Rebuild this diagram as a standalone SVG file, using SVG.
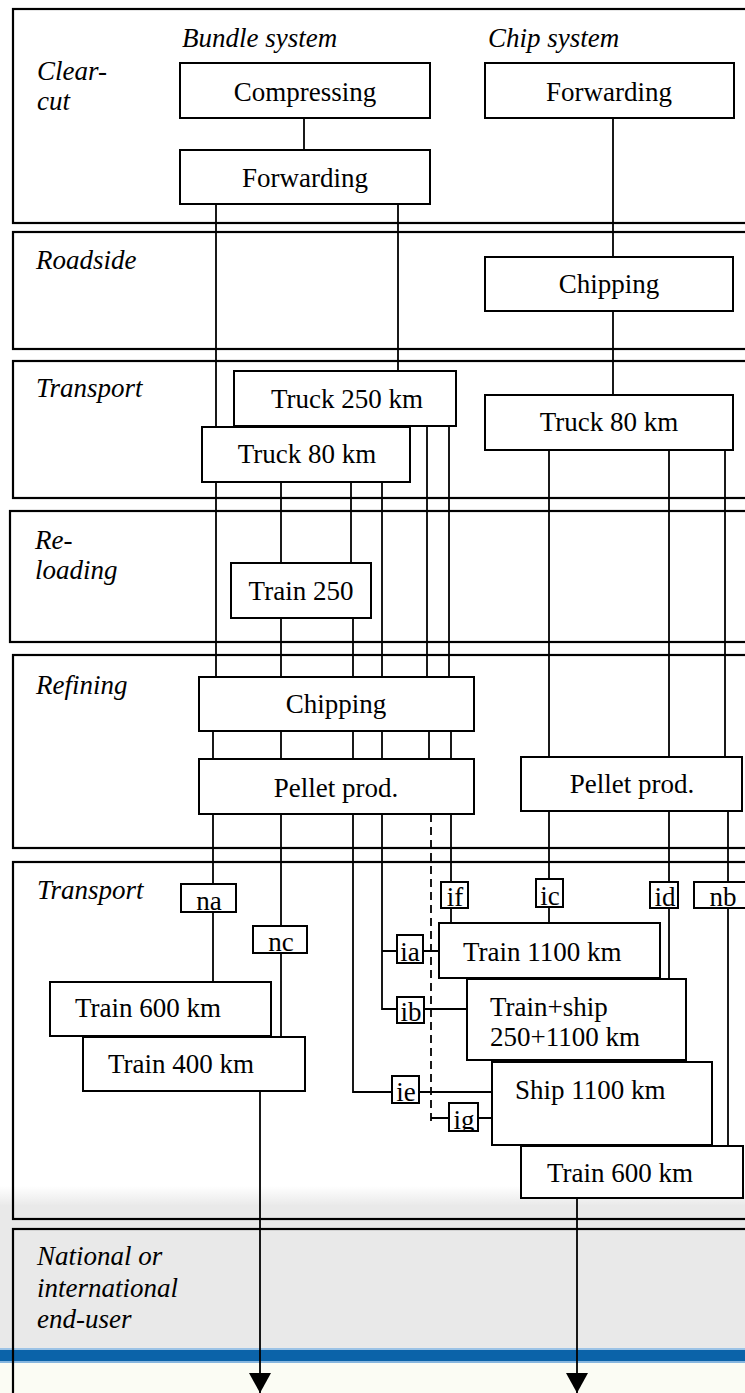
<svg xmlns="http://www.w3.org/2000/svg" width="745" height="1393" viewBox="0 0 745 1393">
<style>
.sec{fill:none;stroke:#000;stroke-width:2.2}
.box{fill:#fff;stroke:#000;stroke-width:2}
.ln{fill:none;stroke:#000;stroke-width:1.8}
.dash{stroke-dasharray:8 5}
.t{font-family:"Liberation Serif","Times New Roman",serif;font-size:27px;fill:#000}
.c{text-anchor:middle}
.i{font-style:italic}
</style>
<defs>
<linearGradient id="fade" x1="0" y1="0" x2="0" y2="1">
<stop offset="0" stop-color="#ffffff"/>
<stop offset="1" stop-color="#e9e9e9"/>
</linearGradient>
<marker id="arr" viewBox="0 0 20 22" refX="20" refY="11" markerWidth="20" markerHeight="22" markerUnits="userSpaceOnUse" orient="auto">
<path d="M0,0 L20,11 L0,22 z" fill="#000"/>
</marker>
<clipPath id="clipig"><rect x="449" y="1103" width="29" height="27"/></clipPath>
</defs>

<g id="background">
<rect x="0" y="0" width="745" height="1393" fill="#fff"/>
<rect x="0" y="1186" width="745" height="20" fill="url(#fade)"/>
<rect x="0" y="1205" width="745" height="144" fill="#e9e9e9"/>
<rect x="0" y="1348" width="745" height="2" fill="#9cc3e6"/>
<rect x="0" y="1350" width="745" height="11" fill="#0b63a9"/>
<rect x="0" y="1361" width="745" height="2" fill="#86b6df"/>
<rect x="0" y="1363" width="745" height="30" fill="#fbfcf4"/>
</g>

<g id="lanes">
<rect class="sec" x="13" y="9" width="760" height="214"/>
<rect class="sec" x="13" y="232" width="760" height="117"/>
<rect class="sec" x="13" y="361" width="760" height="137"/>
<rect class="sec" x="10" y="511" width="763" height="131"/>
<rect class="sec" x="13" y="655" width="760" height="193"/>
<rect class="sec" x="13" y="862" width="760" height="357"/>
<rect class="sec" x="13" y="1229" width="760" height="200"/>
<text class="t i" x="182" y="47">Bundle system</text>
<text class="t i" x="488" y="47">Chip system</text>
<text class="t i" x="37" y="80">Clear-</text>
<text class="t i" x="37" y="110">cut</text>
<text class="t i" x="36" y="269">Roadside</text>
<text class="t i" x="36" y="397">Transport</text>
<text class="t i" x="35" y="549">Re-</text>
<text class="t i" x="35" y="579">loading</text>
<text class="t i" x="36" y="694">Refining</text>
<text class="t i" x="37" y="899">Transport</text>
<text class="t i" x="37" y="1265">National or</text>
<text class="t i" x="37" y="1297">international</text>
<text class="t i" x="37" y="1328">end-user</text>
</g>

<g id="connectors">
<!-- bundle system -->
<line class="ln" x1="304" y1="118" x2="304" y2="150"/>
<line class="ln" x1="216" y1="204" x2="216" y2="677"/>
<line class="ln" x1="398" y1="204" x2="398" y2="371"/>
<line class="ln" x1="427" y1="426" x2="427" y2="677"/>
<line class="ln" x1="449" y1="426" x2="449" y2="677"/>
<line class="ln" x1="281" y1="482" x2="281" y2="563"/>
<line class="ln" x1="351" y1="482" x2="351" y2="563"/>
<line class="ln" x1="382" y1="482" x2="382" y2="677"/>
<line class="ln" x1="281" y1="618" x2="281" y2="677"/>
<line class="ln" x1="353" y1="618" x2="353" y2="677"/>
<line class="ln" x1="213" y1="731" x2="213" y2="759"/>
<line class="ln" x1="281" y1="731" x2="281" y2="759"/>
<line class="ln" x1="353" y1="731" x2="353" y2="759"/>
<line class="ln" x1="382" y1="731" x2="382" y2="759"/>
<line class="ln" x1="429" y1="731" x2="429" y2="759"/>
<line class="ln" x1="451" y1="731" x2="451" y2="759"/>
<line class="ln" x1="213" y1="814" x2="213" y2="982"/>
<line class="ln" x1="281" y1="814" x2="281" y2="1037"/>
<polyline class="ln" points="353,814 353,1092 492,1092"/>
<polyline class="ln" points="382,814 382,1009 467,1009"/>
<line class="ln" x1="382" y1="951" x2="439" y2="951"/>
<line class="ln dash" x1="431" y1="814" x2="431" y2="1121"/>
<line class="ln" x1="431" y1="1118" x2="492" y2="1118"/>
<line class="ln" x1="451" y1="814" x2="451" y2="923"/>
<line class="ln" x1="260" y1="1091" x2="260" y2="1393" marker-end="url(#arr)"/>
<!-- chip system -->
<line class="ln" x1="613" y1="118" x2="613" y2="257"/>
<line class="ln" x1="613" y1="311" x2="613" y2="395"/>
<line class="ln" x1="549" y1="450" x2="549" y2="757"/>
<line class="ln" x1="669" y1="450" x2="669" y2="757"/>
<line class="ln" x1="725" y1="450" x2="725" y2="757"/>
<line class="ln" x1="549" y1="811" x2="549" y2="923"/>
<line class="ln" x1="669" y1="811" x2="669" y2="979"/>
<line class="ln" x1="728" y1="811" x2="728" y2="1146"/>
<line class="ln" x1="577" y1="1198" x2="577" y2="1393" marker-end="url(#arr)"/>
</g>

<g id="n-compressing"><rect class="box" x="180" y="63" width="250" height="55"/><text class="t c" x="305" y="101">Compressing</text></g>
<g id="n-forwarding-bundle"><rect class="box" x="180" y="150" width="250" height="54"/><text class="t c" x="305" y="187">Forwarding</text></g>
<g id="n-forwarding-chip"><rect class="box" x="485" y="63" width="249" height="55"/><text class="t c" x="609" y="101">Forwarding</text></g>
<g id="n-chipping-roadside"><rect class="box" x="485" y="257" width="248" height="54"/><text class="t c" x="609" y="293">Chipping</text></g>
<g id="n-truck250"><rect class="box" x="234" y="371" width="222" height="55"/><text class="t c" x="347" y="408">Truck 250 km</text></g>
<g id="n-truck80-bundle"><rect class="box" x="202" y="427" width="208" height="55"/><text class="t c" x="307" y="463">Truck 80 km</text></g>
<g id="n-truck80-chip"><rect class="box" x="485" y="395" width="248" height="55"/><text class="t c" x="609" y="431">Truck 80 km</text></g>
<g id="n-train250"><rect class="box" x="231" y="563" width="140" height="55"/><text class="t c" x="301" y="600">Train 250</text></g>
<g id="n-chipping-refining"><rect class="box" x="199" y="677" width="275" height="54"/><text class="t c" x="336" y="713">Chipping</text></g>
<g id="n-pellet-bundle"><rect class="box" x="199" y="759" width="275" height="55"/><text class="t c" x="336" y="797">Pellet prod.</text></g>
<g id="n-pellet-chip"><rect class="box" x="521" y="757" width="221" height="54"/><text class="t c" x="632" y="793">Pellet prod.</text></g>

<g id="n-na"><rect class="box" x="181" y="884" width="55" height="28"/><text class="t c" x="209" y="910">na</text></g>
<g id="n-nc"><rect class="box" x="253" y="926" width="54" height="27"/><text class="t c" x="281" y="951">nc</text></g>
<g id="n-if"><rect class="box" x="441" y="882" width="27" height="26"/><text class="t c" x="455" y="906">if</text></g>
<g id="n-ic"><rect class="box" x="536" y="879" width="27" height="28"/><text class="t c" x="550" y="905">ic</text></g>
<g id="n-id"><rect class="box" x="650" y="882" width="28" height="26"/><text class="t c" x="665" y="906">id</text></g>
<g id="n-nb"><rect class="box" x="694" y="882" width="70" height="26"/><text class="t c" x="723" y="906">nb</text></g>

<g id="n-train600-left"><rect class="box" x="50" y="982" width="221" height="54"/><text class="t" x="75" y="1017">Train 600 km</text></g>
<g id="n-train400"><rect class="box" x="83" y="1037" width="222" height="54"/><text class="t" x="108" y="1073">Train 400 km</text></g>
<g id="n-train1100"><rect class="box" x="439" y="923" width="221" height="55"/><text class="t" x="463" y="961">Train 1100 km</text></g>
<g id="n-trainship"><rect class="box" x="467" y="979" width="219" height="81"/><text class="t" x="490" y="1016">Train+ship</text><text class="t" x="490" y="1046">250+1100 km</text></g>
<g id="n-ship1100"><rect class="box" x="492" y="1062" width="220" height="83"/><text class="t" x="515" y="1099">Ship 1100 km</text></g>
<g id="n-train600-chip"><rect class="box" x="521" y="1146" width="222" height="52"/><text class="t" x="547" y="1182">Train 600 km</text></g>

<g id="n-ia"><rect class="box" x="397" y="935" width="26" height="28"/><text class="t c" x="410" y="961">ia</text></g>
<g id="n-ib"><rect class="box" x="397" y="997" width="27" height="26"/><text class="t c" x="411" y="1021">ib</text></g>
<g id="n-ie"><rect class="box" x="392" y="1076" width="27" height="27"/><text class="t c" x="406" y="1101">ie</text></g>
<g id="n-ig"><rect class="box" x="449" y="1103" width="29" height="28"/><text class="t c" x="464" y="1129" clip-path="url(#clipig)">ig</text></g>
</svg>
